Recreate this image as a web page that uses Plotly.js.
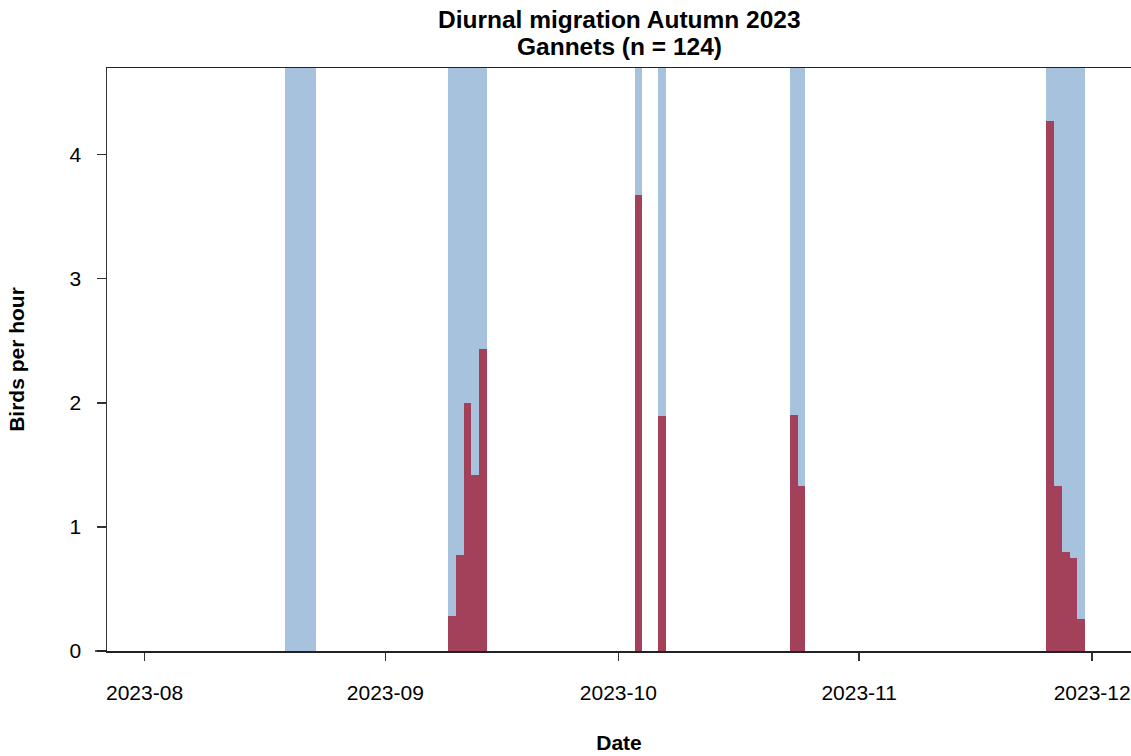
<!DOCTYPE html>
<html>
<head>
<meta charset="utf-8">
<script src="https://cdn.plot.ly/plotly-3.0.1.min.js"></script>
<style>html,body{margin:0;padding:0;background:#fff;}#chart{width:1131px;height:756px;}</style>
</head>
<body>
<div id="chart"></div>
<script>
// Observation days (each bar covers one day)
const obsDates = [
  "2023-08-19","2023-08-20","2023-08-21","2023-08-22",
  "2023-09-09","2023-09-10","2023-09-11","2023-09-12","2023-09-13",
  "2023-10-03","2023-10-06",
  "2023-10-23","2023-10-24",
  "2023-11-25","2023-11-26","2023-11-27","2023-11-28","2023-11-29"
];
// Gannets per hour on each observation day
const birdsPerHour = [
  0, 0, 0, 0,
  0.28, 0.77, 2.00, 1.42, 2.43,
  3.67, 1.89,
  1.90, 1.33,
  4.27, 1.33, 0.80, 0.75, 0.26
];
const tickVals = ["2023-08-01","2023-09-01","2023-10-01","2023-11-01","2023-12-01"];
const tickText = ["2023-08","2023-09","2023-10","2023-11","2023-12"];
const yTicks = [0, 1, 2, 3, 4];
const titleLines = ["Diurnal migration Autumn 2023", "Gannets (n = 124)"];

const yMax = Math.max(...birdsPerHour) * 1.1;
const dayMs = 86400000;
const centers = obsDates.map(d => d + " 14:00");

const effortTrace = {
  type: "bar",
  x: centers,
  y: obsDates.map(() => yMax),
  width: obsDates.map(() => dayMs),
  marker: {color: "#a6c2dc", line: {width: 0}},
  hoverinfo: "skip",
  showlegend: false
};
const birdTrace = {
  type: "bar",
  x: centers,
  y: birdsPerHour,
  width: obsDates.map(() => dayMs),
  marker: {color: "#a3405a", line: {width: 0}},
  showlegend: false
};

const font = "Liberation Sans, Arial, sans-serif";
const plotH = 583;
const titleY = [20, 47]; // pixel centres of the title lines from top
const layout = {
  width: 1131, height: 756,
  margin: {l: 107, r: 0, t: 68, b: 105},
  paper_bgcolor: "#fff", plot_bgcolor: "#fff",
  barmode: "overlay", bargap: 0,
  font: {family: font, size: 21, color: "#000"},
  xaxis: {
    type: "date",
    range: ["2023-07-27 04:00", "2023-12-06 00:00"],
    tickvals: tickVals, ticktext: tickText,
    ticks: "outside", ticklen: 8, tickwidth: 1.5, tickcolor: "#333",
    ticklabelstandoff: 14,
    showline: true, linecolor: "#222", linewidth: 1.5, mirror: true,
    showgrid: false, zeroline: false,
    tickfont: {family: font, size: 21},
    title: {text: "<b>Date</b>", font: {family: font, size: 21}, standoff: 32}
  },
  yaxis: {
    range: [0, yMax],
    tickvals: yTicks,
    ticks: "outside", ticklen: 9, tickwidth: 1.5, tickcolor: "#333",
    ticklabelstandoff: 11,
    showline: true, linecolor: "#333", linewidth: 1.5,
    showgrid: false, zeroline: false,
    tickfont: {family: font, size: 21},
    title: {text: "<b>Birds per hour</b>", font: {family: font, size: 21}, standoff: 39}
  },
  annotations: titleLines.map((t, i) => ({
    text: "<b>" + t + "</b>",
    xref: "paper", yref: "paper",
    x: 0.5, y: 1 + (68 - titleY[i]) / plotH,
    xanchor: "center", yanchor: "middle",
    showarrow: false,
    font: {family: font, size: 24.5, color: "#000"}
  })),
  shapes: [{
    type: "line", xref: "paper", yref: "paper",
    x0: -12/1024, x1: 0, y0: 0, y1: 0,
    line: {color: "#222", width: 1.5}
  }]
};

Plotly.newPlot("chart", [effortTrace, birdTrace], layout, {staticPlot: true, displayModeBar: false});
</script>
</body>
</html>
